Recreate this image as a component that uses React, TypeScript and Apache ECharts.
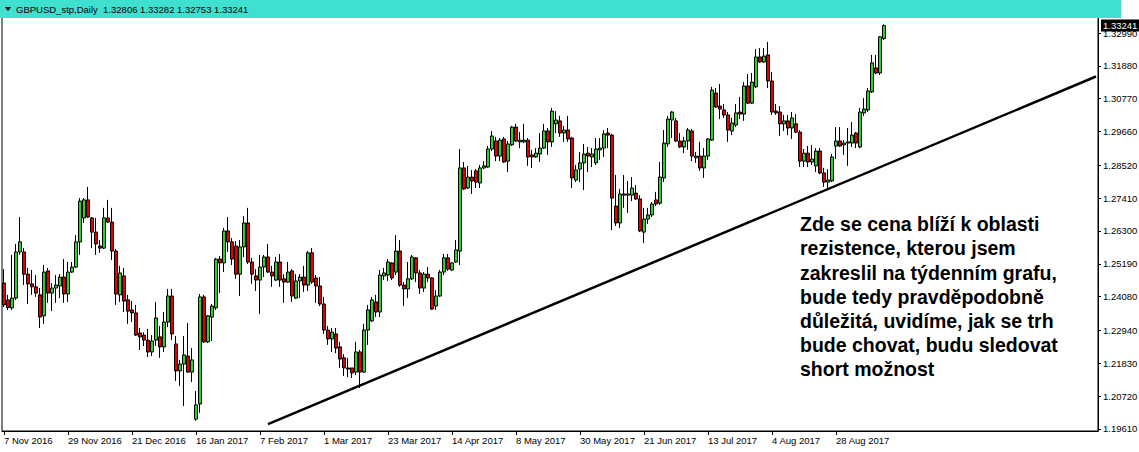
import React, { useEffect, useRef } from 'react';
import * as echarts from 'echarts';

// x-axis tick labels, one every 16 daily bars
const dateLabels = ['7 Nov 2016', '29 Nov 2016', '21 Dec 2016', '16 Jan 2017', '7 Feb 2017', '1 Mar 2017', '23 Mar 2017', '14 Apr 2017', '8 May 2017', '30 May 2017', '21 Jun 2017', '13 Jul 2017', '4 Aug 2017', '28 Aug 2017'];
// right price-scale labels
const priceTicks = [1.3299, 1.3188, 1.3077, 1.2966, 1.2852, 1.2741, 1.2630, 1.2519, 1.2408, 1.2294, 1.2183, 1.2072, 1.1961];

const opens = [
  1.2454, 1.2397, 1.2370, 1.2403, 1.2559, 1.2559, 1.2484, 1.2451, 1.2441, 1.2414,
  1.2343, 1.2495, 1.2420, 1.2437, 1.2444, 1.2474, 1.2417, 1.2491, 1.2508, 1.2593,
  1.2674, 1.2735, 1.2674, 1.2626, 1.2579, 1.2572, 1.2674, 1.2660, 1.2562, 1.2414,
  1.2478, 1.2397, 1.2363, 1.2353, 1.2285, 1.2278, 1.2261, 1.2221, 1.2261, 1.2272,
  1.2238, 1.2322, 1.2410, 1.2248, 1.2157, 1.2180, 1.2207, 1.2153, 1.1994, 1.2045,
  1.2407, 1.2255, 1.2339, 1.2370, 1.2535, 1.2522, 1.2630, 1.2593, 1.2579, 1.2484,
  1.2576, 1.2657, 1.2525, 1.2478, 1.2464, 1.2508, 1.2542, 1.2491, 1.2464, 1.2525,
  1.2468, 1.2457, 1.2495, 1.2403, 1.2461, 1.2474, 1.2447, 1.2556, 1.2471, 1.2444,
  1.2383, 1.2295, 1.2265, 1.2282, 1.2238, 1.2201, 1.2167, 1.2167, 1.2153, 1.2221,
  1.2153, 1.2295, 1.2326, 1.2390, 1.2356, 1.2478, 1.2481, 1.2522, 1.2491, 1.2562,
  1.2447, 1.2434, 1.2468, 1.2539, 1.2488, 1.2437, 1.2484, 1.2471, 1.2376, 1.2410,
  1.2491, 1.2539, 1.2498, 1.2525, 1.2562, 1.2843, 1.2775, 1.2812, 1.2833, 1.2792,
  1.2843, 1.2846, 1.2907, 1.2934, 1.2883, 1.2941, 1.2866, 1.2921, 1.2981, 1.2931,
  1.2931, 1.2937, 1.2887, 1.2880, 1.2890, 1.2910, 1.2968, 1.2931, 1.2992, 1.3002,
  1.2961, 1.2971, 1.2944, 1.2802, 1.2839, 1.2860, 1.2893, 1.2880, 1.2860, 1.2904,
  1.2910, 1.2961, 1.2954, 1.2714, 1.2657, 1.2755, 1.2751, 1.2751, 1.2758, 1.2738,
  1.2626, 1.2670, 1.2684, 1.2735, 1.2724, 1.2809, 1.2924, 1.3005, 1.3002, 1.2934,
  1.2914, 1.2934, 1.2968, 1.2877, 1.2883, 1.2843, 1.2883, 1.2937, 1.3096, 1.3052,
  1.3039, 1.3022, 1.2968, 1.2988, 1.3032, 1.3025, 1.3120, 1.3062, 1.3117, 1.3218,
  1.3201, 1.3225, 1.3137, 1.3035, 1.3032, 1.2992, 1.3002, 1.2978, 1.2992, 1.2964,
  1.2866, 1.2893, 1.2863, 1.2850, 1.2900, 1.2826, 1.2795, 1.2799, 1.2917, 1.2934,
  1.2921, 1.2927, 1.2927, 1.2961, 1.2914, 1.3029, 1.3039, 1.3100, 1.3181, 1.3164,
  1.32806,
];
const closes = [
  1.2380, 1.2371, 1.2403, 1.2559, 1.2593, 1.2484, 1.2451, 1.2441, 1.2420, 1.2339,
  1.2491, 1.2420, 1.2437, 1.2447, 1.2474, 1.2417, 1.2491, 1.2508, 1.2593, 1.2731,
  1.2735, 1.2677, 1.2626, 1.2586, 1.2572, 1.2674, 1.2660, 1.2562, 1.2417, 1.2488,
  1.2393, 1.2359, 1.2353, 1.2278, 1.2272, 1.2261, 1.2221, 1.2258, 1.2336, 1.2238,
  1.2322, 1.2410, 1.2282, 1.2157, 1.2180, 1.2211, 1.2153, 1.2194, 1.2042, 1.2407,
  1.2255, 1.2343, 1.2376, 1.2535, 1.2522, 1.2630, 1.2593, 1.2535, 1.2484, 1.2576,
  1.2657, 1.2525, 1.2484, 1.2464, 1.2508, 1.2542, 1.2491, 1.2478, 1.2525, 1.2464,
  1.2457, 1.2491, 1.2410, 1.2461, 1.2474, 1.2447, 1.2556, 1.2457, 1.2444, 1.2383,
  1.2295, 1.2265, 1.2288, 1.2234, 1.2197, 1.2167, 1.2163, 1.2150, 1.2221, 1.2153,
  1.2295, 1.2363, 1.2397, 1.2356, 1.2481, 1.2488, 1.2525, 1.2471, 1.2562, 1.2447,
  1.2434, 1.2468, 1.2542, 1.2488, 1.2437, 1.2484, 1.2471, 1.2366, 1.2410, 1.2491,
  1.2539, 1.2501, 1.2522, 1.2566, 1.2843, 1.2772, 1.2812, 1.2799, 1.2795, 1.2843,
  1.2850, 1.2907, 1.2951, 1.2883, 1.2937, 1.2863, 1.2924, 1.2981, 1.2934, 1.2937,
  1.2937, 1.2880, 1.2880, 1.2893, 1.2910, 1.2968, 1.2931, 1.3035, 1.3005, 1.2961,
  1.2971, 1.2941, 1.2809, 1.2836, 1.2860, 1.2890, 1.2883, 1.2890, 1.2907, 1.2910,
  1.2958, 1.2954, 1.2741, 1.2657, 1.2755, 1.2751, 1.2755, 1.2775, 1.2738, 1.2630,
  1.2670, 1.2684, 1.2721, 1.2721, 1.2812, 1.2927, 1.3008, 1.3032, 1.2934, 1.2914,
  1.2934, 1.2971, 1.2883, 1.2883, 1.2843, 1.2883, 1.2941, 1.3106, 1.3049, 1.3042,
  1.3022, 1.2971, 1.2995, 1.3029, 1.3025, 1.3120, 1.3062, 1.3133, 1.3218, 1.3201,
  1.3221, 1.3137, 1.3032, 1.3029, 1.2992, 1.3002, 1.2978, 1.3012, 1.2964, 1.2866,
  1.2893, 1.2863, 1.2873, 1.2900, 1.2826, 1.2795, 1.2802, 1.2880, 1.2934, 1.2917,
  1.2927, 1.2931, 1.2954, 1.2927, 1.3032, 1.3042, 1.3103, 1.3198, 1.3164, 1.3286,
  1.33241,
];
const lows = [
  1.2373, 1.2363, 1.2363, 1.2397, 1.2549, 1.2447, 1.2383, 1.2414, 1.2407, 1.2302,
  1.2316, 1.2387, 1.2359, 1.2387, 1.2403, 1.2387, 1.2390, 1.2488, 1.2505, 1.2549,
  1.2657, 1.2674, 1.2572, 1.2549, 1.2556, 1.2569, 1.2657, 1.2532, 1.2380, 1.2390,
  1.2356, 1.2316, 1.2322, 1.2275, 1.2228, 1.2241, 1.2204, 1.2207, 1.2241, 1.2201,
  1.2221, 1.2305, 1.2261, 1.2123, 1.2106, 1.2038, 1.2150, 1.2119, 1.1988, 1.2015,
  1.2251, 1.2251, 1.2258, 1.2363, 1.2420, 1.2491, 1.2559, 1.2515, 1.2468, 1.2410,
  1.2542, 1.2518, 1.2451, 1.2427, 1.2349, 1.2474, 1.2488, 1.2441, 1.2461, 1.2441,
  1.2387, 1.2454, 1.2390, 1.2400, 1.2403, 1.2424, 1.2427, 1.2451, 1.2387, 1.2376,
  1.2282, 1.2245, 1.2221, 1.2217, 1.2167, 1.2140, 1.2136, 1.2133, 1.2143, 1.2099,
  1.2150, 1.2245, 1.2322, 1.2339, 1.2339, 1.2464, 1.2461, 1.2464, 1.2481, 1.2441,
  1.2376, 1.2403, 1.2464, 1.2457, 1.2417, 1.2424, 1.2457, 1.2363, 1.2363, 1.2407,
  1.2481, 1.2495, 1.2495, 1.2522, 1.2515, 1.2768, 1.2772, 1.2755, 1.2775, 1.2775,
  1.2839, 1.2843, 1.2900, 1.2866, 1.2866, 1.2860, 1.2829, 1.2917, 1.2931, 1.2910,
  1.2927, 1.2850, 1.2843, 1.2877, 1.2863, 1.2907, 1.2887, 1.2914, 1.2961, 1.2948,
  1.2931, 1.2931, 1.2775, 1.2795, 1.2795, 1.2768, 1.2829, 1.2846, 1.2853, 1.2870,
  1.2880, 1.2910, 1.2633, 1.2647, 1.2640, 1.2708, 1.2691, 1.2731, 1.2735, 1.2626,
  1.2589, 1.2654, 1.2677, 1.2714, 1.2718, 1.2795, 1.2914, 1.2944, 1.2931, 1.2910,
  1.2893, 1.2904, 1.2866, 1.2860, 1.2833, 1.2809, 1.2870, 1.2934, 1.3046, 1.3008,
  1.3012, 1.2931, 1.2954, 1.2981, 1.3008, 1.3002, 1.3059, 1.3059, 1.3113, 1.3198,
  1.3198, 1.3113, 1.3022, 1.3022, 1.2951, 1.2968, 1.2954, 1.2941, 1.2961, 1.2846,
  1.2846, 1.2846, 1.2853, 1.2829, 1.2822, 1.2779, 1.2768, 1.2795, 1.2873, 1.2914,
  1.2887, 1.2850, 1.2914, 1.2910, 1.2910, 1.3019, 1.3032, 1.3096, 1.3160, 1.3157,
  1.32753,
];
const highs = [
  1.2501, 1.2414, 1.2549, 1.2586, 1.2677, 1.2572, 1.2505, 1.2498, 1.2481, 1.2437,
  1.2515, 1.2505, 1.2454, 1.2481, 1.2484, 1.2535, 1.2525, 1.2525, 1.2616, 1.2741,
  1.2741, 1.2779, 1.2677, 1.2674, 1.2599, 1.2708, 1.2735, 1.2708, 1.2569, 1.2512,
  1.2505, 1.2414, 1.2393, 1.2380, 1.2302, 1.2288, 1.2299, 1.2278, 1.2390, 1.2309,
  1.2356, 1.2434, 1.2434, 1.2275, 1.2194, 1.2275, 1.2319, 1.2234, 1.2089, 1.2417,
  1.2414, 1.2346, 1.2383, 1.2539, 1.2545, 1.2640, 1.2677, 1.2606, 1.2596, 1.2599,
  1.2680, 1.2708, 1.2539, 1.2501, 1.2549, 1.2549, 1.2586, 1.2512, 1.2542, 1.2552,
  1.2484, 1.2525, 1.2501, 1.2484, 1.2484, 1.2512, 1.2562, 1.2572, 1.2481, 1.2474,
  1.2407, 1.2309, 1.2302, 1.2302, 1.2255, 1.2214, 1.2201, 1.2167, 1.2255, 1.2228,
  1.2316, 1.2380, 1.2407, 1.2414, 1.2498, 1.2505, 1.2535, 1.2525, 1.2616, 1.2599,
  1.2457, 1.2525, 1.2549, 1.2542, 1.2498, 1.2491, 1.2508, 1.2474, 1.2430, 1.2498,
  1.2552, 1.2552, 1.2525, 1.2599, 1.2907, 1.2863, 1.2850, 1.2836, 1.2839, 1.2853,
  1.2866, 1.2917, 1.2968, 1.2948, 1.2944, 1.2948, 1.2934, 1.2985, 1.2992, 1.2964,
  1.2992, 1.2944, 1.2904, 1.2910, 1.2961, 1.2992, 1.2978, 1.3046, 1.3035, 1.3019,
  1.2985, 1.3019, 1.2948, 1.2853, 1.2897, 1.2924, 1.2914, 1.2910, 1.2944, 1.2944,
  1.2971, 1.2978, 1.2958, 1.2819, 1.2772, 1.2819, 1.2799, 1.2812, 1.2785, 1.2751,
  1.2708, 1.2708, 1.2728, 1.2762, 1.2863, 1.2971, 1.3019, 1.3035, 1.3012, 1.2961,
  1.2948, 1.2978, 1.2975, 1.2897, 1.2931, 1.2910, 1.2944, 1.3117, 1.3113, 1.3127,
  1.3059, 1.3032, 1.3012, 1.3059, 1.3083, 1.3133, 1.3160, 1.3164, 1.3245, 1.3248,
  1.3248, 1.3269, 1.3167, 1.3059, 1.3052, 1.3022, 1.3022, 1.3032, 1.3025, 1.2971,
  1.2907, 1.2917, 1.2921, 1.2910, 1.2910, 1.2843, 1.2839, 1.2890, 1.2981, 1.2981,
  1.2937, 1.2978, 1.2998, 1.2964, 1.3046, 1.3079, 1.3113, 1.3225, 1.3225, 1.3289,
  1.33282,
];

const symbolName = 'GBPUSD_stp,Daily';
const lastQuote = [1.32806, 1.33282, 1.32753, 1.33241]; // O H L C
// hand-drawn support line: [bar index, price]
const trendLine = [[66, 1.1977], [273, 1.3152]];
const noteLines = [
  'Zde se cena blíží k oblasti',
  'rezistence, kterou jsem',
  'zakreslil na týdenním grafu,',
  'bude tedy pravděpodobně',
  'důležitá, uvidíme, jak se trh',
  'bude chovat, budu sledovat',
  'short možnost',
];

const TOTAL_SLOTS = 274;
const LABEL_EVERY = 16;
const FONT = '"Liberation Sans", Arial, sans-serif';

export default function App() {
  const ref = useRef<HTMLDivElement>(null);
  useEffect(() => {
    if (!ref.current) return;
    const chart = echarts.init(ref.current, null, { renderer: 'svg' });
    const categories = Array.from({ length: TOTAL_SLOTS }, (_, i) => String(i));
    const candles = opens.map((o, i) => [o, closes[i], lows[i], highs[i]]);
    const showLabel = (idx: number) => idx % LABEL_EVERY === 0 && idx / LABEL_EVERY < dateLabels.length;

    chart.setOption({
      animation: false,
      backgroundColor: '#fff',
      grid: {
        left: 2, right: 41, top: 1, bottom: 21,
        outerBoundsMode: 'none',
        containLabel: false,
        show: true, borderColor: '#000', borderWidth: 1, backgroundColor: '#fff',
      },
      xAxis: {
        type: 'category',
        data: categories,
        boundaryGap: true,
        axisLine: { show: true, lineStyle: { color: '#000', width: 1 } },
        axisTick: { show: true, alignWithLabel: true, interval: (idx: number) => showLabel(idx), length: 4, lineStyle: { color: '#000' } },
        axisLabel: {
          interval: (idx: number) => showLabel(idx),
          formatter: (_v: string, idx: number) => (showLabel(idx) ? dateLabels[idx / LABEL_EVERY] : ''),
          align: 'left', margin: 4, color: '#000', fontSize: 9.5, fontFamily: FONT,
        },
        splitLine: { show: false },
      },
      yAxis: {
        type: 'value',
        position: 'right',
        min: 1.19538,
        max: 1.34072,
        scale: true,
        axisLine: { show: true, lineStyle: { color: '#000', width: 1 } },
        axisTick: { show: true, customValues: priceTicks, length: 3, lineStyle: { color: '#000' } },
        axisLabel: {
          customValues: priceTicks,
          formatter: (v: number) => v.toFixed(5),
          color: '#000', fontSize: 9.5, fontFamily: FONT, margin: 5,
        },
        splitLine: { show: false },
      },
      series: [
        {
          type: 'candlestick',
          data: candles,
          barWidth: 3,
          itemStyle: {
            color: '#32CD32', color0: '#E00000',
            borderColor: '#000', borderColor0: '#000', borderWidth: 1,
          },
        },
        {
          type: 'line',
          data: trendLine,
          symbol: 'none',
          silent: true,
          lineStyle: { color: '#000', width: 2.5 },
          z: 3,
        },
      ],
      graphic: [
        { type: 'rect', shape: { x: 0, y: 0, width: 1121, height: 18 }, style: { fill: '#40E0D0' }, z: 100 },
        { type: 'polygon', shape: { points: [[5, 7], [11, 7], [8, 11]] }, style: { fill: '#000' }, z: 101 },
        {
          type: 'text', x: 16, y: 9, z: 101,
          style: {
            text: symbolName + '  ' + lastQuote.map((v) => v.toFixed(5)).join(' '),
            font: '9.5px ' + FONT, fill: '#000', verticalAlign: 'middle',
          },
        },
        {
          type: 'text', x: 800, y: 212, z: 101,
          style: {
            text: noteLines.join('\n'),
            font: 'bold 19.5px ' + FONT, fill: '#000', lineHeight: 24.2,
          },
        },
      ],
    });

    // current-price box on the price scale, placed through the y scale
    const py = chart.convertToPixel({ yAxisIndex: 0 }, lastQuote[3]) as number;
    chart.setOption({
      graphic: [
        {
          type: 'text', id: 'bidBox', x: 1101, y: py, z: 110,
          style: {
            text: lastQuote[3].toFixed(5),
            font: '9.5px ' + FONT, fill: '#fff', backgroundColor: '#000',
            padding: [1, 2, 1, 2], verticalAlign: 'middle',
          },
        },
      ],
    });
    return () => chart.dispose();
  }, []);
  return <div ref={ref} style={{ position: 'absolute', left: 0, top: 0, width: 1139, height: 452 }} />;
}
